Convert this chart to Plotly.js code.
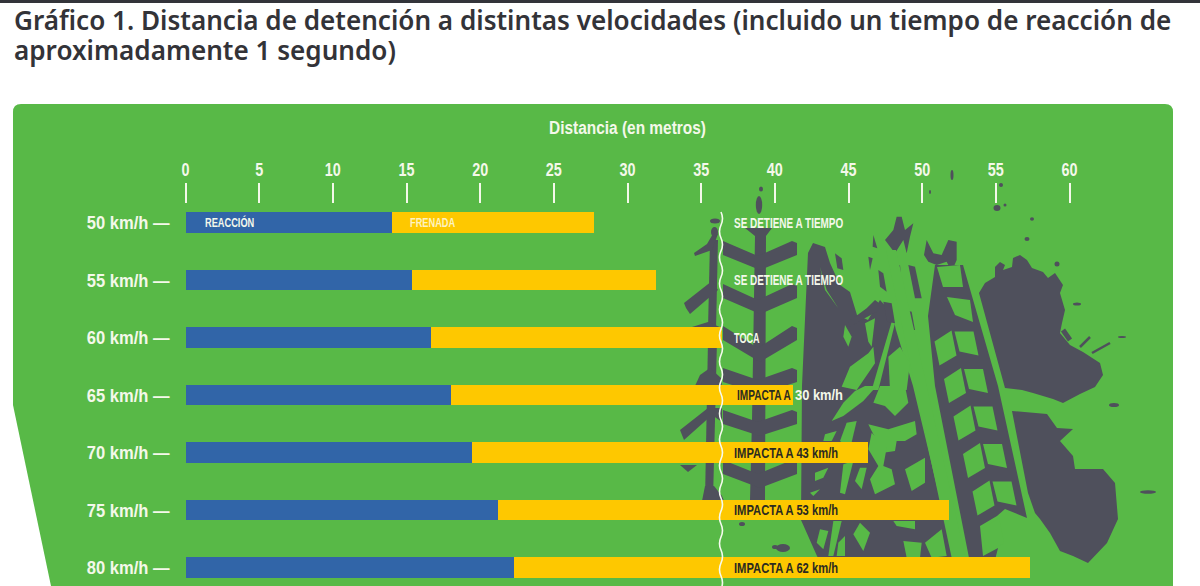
<!DOCTYPE html>
<html><head><meta charset="utf-8">
<script src="https://cdn.plot.ly/plotly-3.0.1.min.js"></script>
<style>html,body{margin:0;padding:0;background:#fff;overflow:hidden}#c{width:1200px;height:586px}</style>
</head><body><div id="c"></div>
<script>
// ---- data ----
const speeds = ['50 km/h','55 km/h','60 km/h','65 km/h','70 km/h','75 km/h','80 km/h'];
const reaccion = [14.04,15.4,16.66,18.02,19.45,21.2,22.27];
const frenada = [13.66,16.53,19.74,23.18,26.9,30.6,35.03];
const outcomes = ['SE DETIENE A TIEMPO','SE DETIENE A TIEMPO','TOCA','IMPACTA A 30 km/h','IMPACTA A 43 km/h','IMPACTA A 53 km/h','IMPACTA A 62 km/h'];
const xTicks = [0,5,10,15,20,25,30,35,40,45,50,55,60];
const titleText = 'Gráfico 1. Distancia de detención a distintas velocidades (incluido un tiempo de reacción de<br>aproximadamente 1 segundo)';

// ---- page geometry / palette ----
const W=1200,H=586, GREEN='#58b947', DARK='#4f505c', BLUE='#3165a8', YELLOW='#fec800', PALE='#f4f8ea', INK='#2b2b20';
const NARROW='"Liberation Sans",sans-serif';
const X0=185.5,X60=1069.5,AX_Y=204,CAT0=222.5,STEP=57.5;
const px=(x,y)=>(x/W).toFixed(5)+','+(1-y/H).toFixed(5);
const shapes=[];
function pathShape(d,fill,extra){shapes.push(Object.assign({type:'path',xref:'paper',yref:'paper',path:d,fillcolor:fill,line:{width:0},layer:'below'},extra||{}));}
function poly(pts,fill){pathShape('M'+pts.map(p=>px(p[0],p[1])).join('L')+'Z',fill);}
function cp(x0,y0,pts,fill){poly(pts.map(p=>[x0+p[0]/3,y0+p[1]/3]),fill);}
function blob(x,y,rx,ry){shapes.push({type:'circle',xref:'paper',yref:'paper',x0:(x-rx)/W,x1:(x+rx)/W,y0:1-(y+ry)/H,y1:1-(y-ry)/H,fillcolor:DARK,line:{width:0},layer:'below'});}
function stroke(a,b,c,d,w){shapes.push({type:'line',xref:'paper',yref:'paper',x0:a/W,x1:c/W,y0:1-b/H,y1:1-d/H,line:{color:DARK,width:w},layer:'below'});}

// top rule
poly([[0,0],[1200,0],[1200,3],[0,3]],'#33343a');
// green panel
pathShape('M'+px(13,112)+'Q'+px(13,104)+' '+px(21,104)+'L'+px(1165,104)+'Q'+px(1173,104)+' '+px(1173,112)+'L'+px(1173,586)+'L'+px(51,586)+'L'+px(13,405)+'Z',GREEN);

// left track
poly([[710,240],[718,240],[716,330],[708,330]],DARK);
poly([[708,340],[717,340],[713,500],[705,500]],DARK);
poly([[684,303],[712,281],[718,290],[690,314],[686,308]],DARK);
poly([[714,232],[718,234],[712,250],[695,256],[694,253],[707,244]],DARK);
blob(714.5,232,3.5,5); blob(715,221,5,2.5);
poly([[692,327],[708,322],[722,328],[722,332],[692,332]],DARK);
poly([[700,375],[710,368],[721,378],[722,386],[695,386]],DARK);
poly([[680,430],[708,408],[722,408],[722,422],[712,415],[684,440]],DARK);
poly([[680,465],[697,465],[688,472]],DARK);
poly([[705,486],[714,486],[722,496],[724,501],[702,501]],DARK);

// chevron track
poly([[745,228],[772,228],[766,236],[765,500],[750,500],[752,420],[755,236]],DARK);
blob(759,205,3.2,9);blob(761,189,2,2.5);
[[247,268],[290,312],[332,360],[374,392],[416,434],[466,486]].forEach(c=>{
  const t=c[0],m=c[1];
  poly([[723,t-6],[758,m-12],[792,t-6],[797,t-4],[797,t+8],[760,m+2],[723,t+8]],DARK);
});
blob(742,524,3,2);blob(783,548,7,4);blob(775,547,3,2);

// wide scuffed track, holes are cut by painting the panel colour over it
poly([[808,253],[813,243],[825,247],[830,263],[840,285],[850,292],[857,315],[868,320],[880,300],[892,313],[896,330],[913,386],[945,520],[957,578],[830,578],[817,556],[801,520],[802,386]],DARK);
const holes=[
 [[165,15],[195,0],[230,0],[190,45],[130,90],[95,105],[130,50]],
 [[240,0],[315,0],[325,50],[285,90],[255,60],[220,50]],
 [[205,115],[265,130],[345,105],[350,145],[315,165],[290,165],[285,195],[250,200],[215,135]],
 [[75,145],[110,135],[95,165],[70,165]],
 [[140,110],[170,105],[150,190],[120,165]],
 [[215,140],[260,185],[250,240],[275,250],[285,295],[225,325],[210,280],[235,240],[205,190]],
 [[315,250],[375,215],[375,290],[335,315]],
 [[180,245],[200,245],[185,310],[165,285]],
 [[45,260],[85,245],[70,275],[45,285]],
 [[130,235],[160,225],[135,325],[120,320]],
 [[30,320],[60,310],[40,330]],
 [[180,410],[210,440],[190,495],[160,445]],
 [[60,430],[85,435],[70,490],[50,470]],
 [[280,405],[345,405],[345,430],[290,420]],
 [[100,405],[125,405],[100,510],[85,510]],
 [[310,465],[365,470],[360,515],[320,515]],
 [[375,470],[425,430],[440,510],[395,515]],
 [[115,470],[135,450],[135,510],[110,510]]
];
holes.forEach(h=>cp(800,386,h,GREEN));
[
 [[135,405],[155,440],[145,470],[130,440]],
 [[195,400],[225,385],[215,470],[205,455]],
 [[125,590],[150,530],[205,490],[220,470],[225,520],[170,600]],
 [[265,500],[300,470],[330,520],[320,600],[270,600]],
 [[275,395],[285,400],[235,600],[215,600]],
 [[60,230],[75,300],[115,355],[80,300]]
].forEach(h=>cp(800,190,h,GREEN));

// tread fragments above
[
 [[290,80],[305,80],[315,120],[340,100],[330,140],[320,190],[310,150],[285,190],[255,150],[280,120]],
 [[220,135],[232,175],[218,170]],
 [[205,200],[218,205],[210,240]],
 [[380,150],[400,190],[425,195],[445,150],[470,155],[470,210],[455,245],[440,215],[410,225],[385,215],[372,195]],
 [[285,230],[300,225],[305,280],[290,285]],
 [[235,240],[250,250],[260,305],[240,290]],
 [[325,225],[345,230],[365,325],[345,325]],
 [[305,300],[315,340],[305,350]],
 [[225,330],[245,345],[230,365],[175,395],[150,410],[145,395],[200,355]],
 [[250,335],[275,340],[285,400],[262,395]],
 [[315,360],[335,365],[345,420],[325,420]],
 [[105,190],[125,205],[130,240],[112,235]]
].forEach(f=>cp(800,190,f,DARK));

// long green stripe inside the track
poly([[886,250],[896,250],[970,578],[956,578]],GREEN);

// ladder tyre
poly([[928,316],[935,265],[963,265],[998,386],[1027,518],[1005,509],[997,516],[980,526],[983,556],[998,548],[995,560],[990,578],[973,578],[935,386]],DARK);
[[937,267,960,265,963,287,943,287],[947,297,970,300,973,322,955,315]].forEach(c=>
  poly([[c[0],c[1]],[c[2],c[3]],[c[4],c[5]],[c[6],c[7]]],GREEN));
[-3,-2,-1,0,1,2].forEach(k=>{
  const dx=9.5*k,dy=37.5*k;
  poly([[963,454],[980,443],[985,468],[968,478]].map(p=>[p[0]+dx,p[1]+dy]),GREEN);
  if(k<2) poly([[983,444],[1002,444],[1007,468],[988,464]].map(p=>[p[0]+dx,p[1]+dy]),GREEN);
});

// splatter
poly([[979,293],[985,283],[995,277],[995,267],[1000,262],[1005,265],[1003,270],[1012,267],[1013,258],[1020,255],[1027,260],[1032,268],[1043,272],[1048,278],[1055,273],[1063,285],[1060,293],[1065,310],[1062,323],[1060,333],[1070,345],[1083,352],[1100,363],[1103,375],[1095,387],[1080,394],[1063,403],[1053,399],[1033,393],[1022,390],[1005,388]],DARK);
poly([[1012,411],[1047,414],[1057,428],[1073,429],[1060,441],[1073,456],[1075,469],[1103,469],[1115,483],[1118,519],[1107,543],[1088,563],[1073,556],[1060,551],[1050,533],[1040,519],[1035,513],[1028,493]],DARK);
[[997,208,3.5,3],[1005,205,1.5,1.5],[1032,219,2,1.8],[1027,239,2.5,2],[1057,264,2.5,2.5],[1077,304,4,1.5],[1122,337,4,1],[1114,405,5,2],[1148,492,8,1.8],[1001,185,2,2],[930,192,1,2],[952,175,1.5,5]].forEach(b=>blob(b[0],b[1],b[2],b[3]));
stroke(1080,347,1090,337,2.5);stroke(1092,353,1110,343,2.5);stroke(1063,330,1070,340,5);

// wavy limit line, above the bars
let wave='M'+px(721,212);
for(let y=212,i=0;y<586;y+=13,i++){wave+='Q'+px(i%2?718:724,y+6.5)+' '+px(721,y+13);}
shapes.push({type:'path',xref:'paper',yref:'paper',path:wave,line:{color:'#f6fbef',width:1.6},layer:'above'});

// ---- annotations built from the arrays ----
const ann=[];
function note(x,cat,text,size,color){ann.push({x,y:cat,xref:'x',yref:'y',text,showarrow:false,xanchor:'left',yanchor:'middle',font:{family:NARROW,size,color,weight:700}});}
outcomes.forEach((t,i)=>{
  if(t.endsWith('30 km/h')){          // half on the yellow bar, half on the green panel
    note(37.3,speeds[i],t.slice(0,9),14,INK);
    note(41.2,speeds[i],t.slice(10),14,PALE);
  } else note(37.1,speeds[i],t,14,t.startsWith('IMPACTA')?INK:PALE);
});
note(1.2,speeds[0],'REACCIÓN',12,PALE);
note(15.1,speeds[0],'FRENADA',12,'#fdf3c0');

const traces=[
 {type:'bar',orientation:'h',name:'Reacción',y:speeds,x:reaccion,marker:{color:BLUE,line:{width:0}},hoverinfo:'x+y'},
 {type:'bar',orientation:'h',name:'Frenada',y:speeds,x:frenada,marker:{color:YELLOW,line:{width:0}},hoverinfo:'x+y'}
];
const layout={
 width:W,height:H,margin:{l:0,r:0,t:0,b:0,pad:0},paper_bgcolor:'#fff',plot_bgcolor:'rgba(0,0,0,0)',
 showlegend:false,barmode:'stack',bargap:0.65,
 title:{text:titleText,x:14/W,xanchor:'left',xref:'paper',y:1-30/H,yanchor:'top',
   font:{family:'"Noto Sans",sans-serif',size:26.1,color:'#333338',weight:600}},
 xaxis:{domain:[X0/W,X60/W],range:[0,60],side:'top',tickvals:xTicks,ticktext:xTicks.map(String),
   ticks:'outside',ticklen:20,tickwidth:2,tickcolor:PALE,showline:false,showgrid:false,zeroline:false,
   ticklabelstandoff:0,tickfont:{family:NARROW,size:18,color:PALE,weight:700},
   title:{text:'Distancia (en metros)',standoff:20,font:{family:NARROW,size:18,color:PALE,weight:700}}},
 yaxis:{type:'category',categoryorder:'array',categoryarray:speeds,domain:[0,1-AX_Y/H],
   range:[(H-CAT0)/STEP,(AX_Y-CAT0)/STEP],tickvals:speeds,ticktext:speeds.map(s=>s+' —'),
   ticks:'',showline:false,showgrid:false,zeroline:false,ticklabelstandoff:15,
   tickfont:{family:NARROW,size:19,color:PALE,weight:700}},
 shapes,annotations:ann
};
// the reference uses a condensed face: squeeze the real text horizontally
function squeeze(el,k){
  const w=el.getComputedTextLength();
  el.setAttribute('lengthAdjust','spacingAndGlyphs');
  el.setAttribute('textLength',(w*k).toFixed(1));
}
Plotly.newPlot('c',traces,layout,{displayModeBar:false,staticPlot:true}).then(gd=>{
  gd.querySelectorAll('.xtick text').forEach(t=>squeeze(t,0.8));
  gd.querySelectorAll('.ytick text').forEach(t=>squeeze(t,0.87));
  gd.querySelectorAll('.xtitle').forEach(t=>squeeze(t,0.857));
  gd.querySelectorAll('.annotation-text-g text, .annotation text').forEach(t=>{
    const s=t.textContent;
    const k=s==='TOCA'?0.65:s.startsWith('SE ')?0.71:s==='IMPACTA A'?0.72:s.startsWith('IMPACTA')?0.8:s==='30 km/h'?0.92:0.77;
    const w=t.getComputedTextLength();
    const x=parseFloat(t.getAttribute('x'));
    t.setAttribute('x',(x-w/2).toFixed(1));
    t.style.textAnchor='start';
    t.setAttribute('text-anchor','start');
    squeeze(t,k);
  });
  const lines=gd.querySelectorAll('.gtitle tspan.line');
  if(lines.length===2){ lines[1].setAttribute('dy','30px'); }
});
</script></body></html>
